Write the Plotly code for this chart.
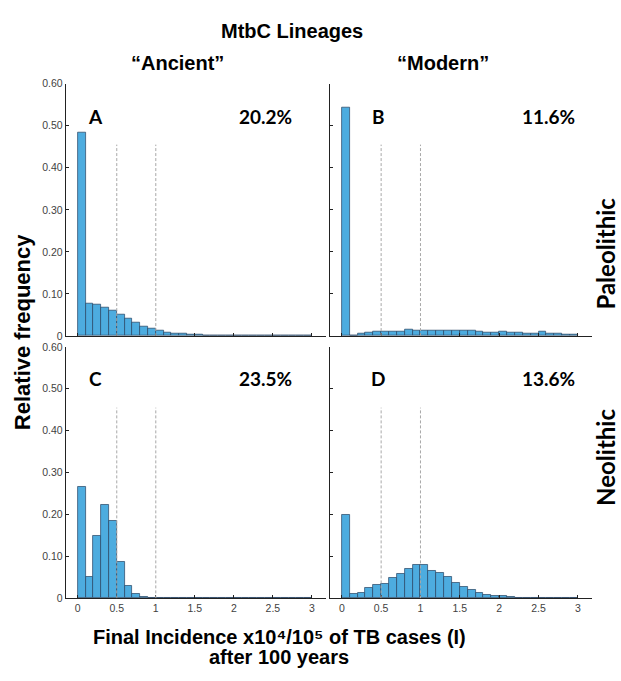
import plotly.graph_objects as go

# Histogram bins: width 0.1 from 0 to 3 (final incidence x10^4/10^5)
bin_width = 0.1
bin_centers = [round(0.05 + 0.1 * i, 2) for i in range(30)]

# Relative frequencies per bin
ancient_paleolithic = [0.484, 0.076, 0.074, 0.067, 0.060, 0.050, 0.041, 0.031, 0.023, 0.018,
                       0.014, 0.0086, 0.006, 0.0047, 0.004, 0.003, 0.0023, 0.001, 0.0023, 0.0015,
                       0.0015, 0.001, 0.0005, 0.0005, 0.0004, 0.0004, 0.0003, 0.0003, 0.0002, 0.0002]
modern_paleolithic = [0.542, 0.002, 0.0055, 0.0085, 0.010, 0.0117, 0.011, 0.011, 0.0148, 0.013,
                      0.0125, 0.0125, 0.0125, 0.0125, 0.0125, 0.013, 0.013, 0.010, 0.0085, 0.0085,
                      0.0117, 0.0078, 0.0078, 0.0062, 0.0047, 0.010, 0.0047, 0.0047, 0.004, 0.004]
ancient_neolithic = [0.266, 0.051, 0.150, 0.224, 0.185, 0.088, 0.031, 0.010, 0.003, 0.001,
                     0, 0, 0, 0, 0, 0, 0, 0, 0, 0,
                     0, 0, 0, 0, 0, 0, 0, 0, 0, 0]
modern_neolithic = [0.199, 0.010, 0.014, 0.026, 0.033, 0.034, 0.049, 0.059, 0.070, 0.081,
                    0.079, 0.066, 0.060, 0.051, 0.037, 0.027, 0.020, 0.013, 0.009, 0.007,
                    0.005, 0.004, 0.002, 0.0015, 0.001, 0.0005, 0.0003, 0.0002, 0.0001, 0.0001]

panel_letters = ["A", "B", "C", "D"]
panel_percents = ["20.2%", "11.6%", "23.5%", "13.6%"]
threshold_lines = [0.5, 1.0]
threshold_top = 0.455

y_tick_vals = [0, 0.1, 0.2, 0.3, 0.4, 0.5, 0.6]
y_tick_text = ["0", "0.10", "0.20", "0.30", "0.40", "0.50", "0.60"]
x_tick_vals = [0, 0.5, 1, 1.5, 2, 2.5, 3]
x_tick_text = ["0", "0.5", "1", "1.5", "2", "2.5", "3"]

W, H = 621, 681
BAR_FILL = "#4DACDF"
BAR_EDGE = "rgba(40,70,100,0.9)"
AXIS_COL = "#222222"
TICK_FONT = dict(family="Liberation Sans, Arial, sans-serif", size=10.5, color="#3f3f3f")

# Panel geometry in pixels: (left, right) per column, (top, bottom) per row
left_cols = [(66, 326), (330, 592)]
rows = [(79, 336), (347, 603)]

series = [ancient_paleolithic, modern_paleolithic, ancient_neolithic, modern_neolithic]

fig = go.Figure()
layout_axes = {}
shapes = []
annotations = []

for k, vals in enumerate(series):
    r, c = divmod(k, 2)
    xl, xr = left_cols[c]
    yt, yb = rows[r]
    idx = "" if k == 0 else str(k + 1)
    xname, yname = "x" + idx, "y" + idx
    fig.add_trace(go.Bar(
        x=bin_centers, y=vals, width=bin_width,
        marker=dict(color=BAR_FILL, line=dict(color=BAR_EDGE, width=0.8)),
        xaxis=xname, yaxis=yname, showlegend=False,
    ))
    layout_axes["xaxis" + idx] = dict(
        domain=[xl / W, xr / W], anchor=yname, range=[-0.15, 3.18],
        showgrid=False, zeroline=False, showline=True, linecolor=AXIS_COL, linewidth=1.4,
        ticks="inside", ticklen=3, tickcolor=AXIS_COL, tickwidth=1,
        tickvals=x_tick_vals, ticktext=x_tick_text,
        showticklabels=(r == 1), tickfont=TICK_FONT,
    )
    layout_axes["yaxis" + idx] = dict(
        domain=[1 - yb / H, 1 - yt / H], anchor=xname, range=[0, 0.6],
        showgrid=False, zeroline=False, showline=True, linecolor=AXIS_COL, linewidth=1.4,
        ticks="inside", ticklen=3, tickcolor=AXIS_COL, tickwidth=1,
        tickvals=y_tick_vals, ticktext=y_tick_text,
        showticklabels=(c == 0), tickfont=TICK_FONT,
    )
    for xv in threshold_lines:
        shapes.append(dict(type="line", xref=xname, yref=yname,
                           x0=xv, x1=xv, y0=0, y1=threshold_top,
                           line=dict(color="#a8a8a8", width=1, dash="3px,2px")))
    # panel letter and percentage
    letter_x = [95, 378][c]
    pct_x = [265, 548][c]
    ty = [112, 379][r]
    for txt, px in ((panel_letters[k], letter_x), (panel_percents[k], pct_x)):
        annotations.append(dict(text=txt, x=px / W, y=1 - ty / H,
                                xref="paper", yref="paper", showarrow=False,
                                xanchor="center", yanchor="middle",
                                font=dict(family="Lato, Open Sans, sans-serif", size=19,
                                          color="black", weight="bold")))

HEAD_FONT = dict(family="Liberation Sans, Arial, sans-serif", size=20, color="black", weight="bold")
SIDE_FONT = dict(family="Lato, Open Sans, sans-serif", size=24, color="black", weight="bold")


def label(text, px, py, font, angle=0):
    annotations.append(dict(text=text, x=px / W, y=1 - py / H, xref="paper", yref="paper",
                            showarrow=False, xanchor="center", yanchor="middle",
                            textangle=angle, font=font))


label("MtbC Lineages", 292, 25, HEAD_FONT)
label("“Ancient”", 177, 58, HEAD_FONT)
label("“Modern”", 443, 58, HEAD_FONT)
label("Paleolithic", 606, 252, SIDE_FONT, -90)
label("Neolithic", 606, 460, SIDE_FONT, -90)
label("Relative frequency", 22, 332,
      dict(family="Liberation Sans, Arial, sans-serif", size=22, color="black", weight="bold"), -90)
label("Final Incidence x10⁴/10⁵ of TB cases (I)", 279, 642, HEAD_FONT)
label("after 100 years", 279, 663, HEAD_FONT)

fig.update_layout(
    width=W, height=H, margin=dict(l=0, r=0, t=0, b=0),
    paper_bgcolor="white", plot_bgcolor="white",
    bargap=0, shapes=shapes, annotations=annotations,
    **layout_axes,
)

fig.write_html("out.html")
